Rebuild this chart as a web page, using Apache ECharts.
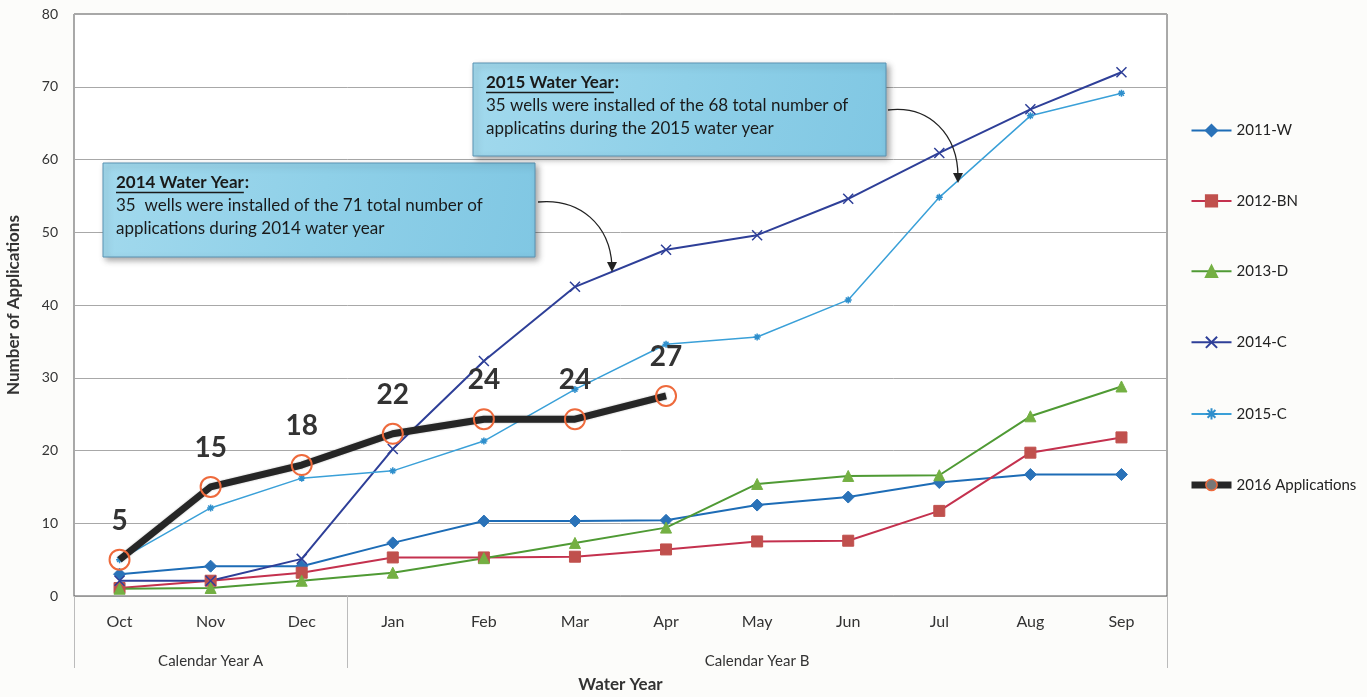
<!DOCTYPE html>
<html><head><meta charset="utf-8">
<script src="https://cdn.jsdelivr.net/npm/echarts@6/dist/echarts.min.js"></script>
<style>html,body{margin:0;padding:0;background:#fcfcfa}#c{width:1367px;height:697px}</style>
</head><body><div id="c"></div>
<script>
const months = ['Oct','Nov','Dec','Jan','Feb','Mar','Apr','May','Jun','Jul','Aug','Sep'];
const yTicks = [0,10,20,30,40,50,60,70,80];
const calendarLabels = ['Calendar Year A','Calendar Year B'];
const w2011 = [3,4.1,4.1,7.3,10.3,10.3,10.4,12.5,13.6,15.6,16.7,16.7];
const bn2012 = [1.1,2.1,3.2,5.3,5.3,5.4,6.4,7.5,7.6,11.7,19.7,21.8];
const d2013 = [1,1.1,2.1,3.2,5.2,7.3,9.4,15.4,16.5,16.6,24.7,28.8];
const c2014 = [2.1,2.1,5.1,20.2,32.3,42.5,47.6,49.6,54.6,60.9,66.9,72];
const c2015 = [5,12.1,16.2,17.2,21.3,28.4,34.6,35.6,40.7,54.8,66,69.1];
const apps2016 = [5,15,18,22.3,24.3,24.3,27.5];
const labels2016 = ['5','15','18','22','24','24','27'];

const FONT = 'Lato';
const chart = echarts.init(document.getElementById('c'));
const mctx = document.createElement('canvas').getContext('2d');
function tw(text, font) { mctx.font = font; return mctx.measureText(text).width; }

function note(x, y, w, h, title, l1, l2) {
  const tf = 'bold 17px ' + FONT;
  const bf = '17px ' + FONT;
  const titleW = tw(title, tf);
  return {
    type: 'group', x: x, y: y, z: 100,
    children: [
      { type: 'rect', z: 100, shape: { x: 0, y: 0, width: w, height: h },
        style: { fill: new echarts.graphic.LinearGradient(0,0,1,1,[{offset:0,color:'#a2d9ed'},{offset:0.5,color:'#8fd0e8'},{offset:1,color:'#80c7e3'}]),
          stroke: '#5a93b3', lineWidth: 1, shadowBlur: 6, shadowOffsetX: 3, shadowOffsetY: 3, shadowColor: 'rgba(0,0,0,0.35)' } },
      { type: 'text', z: 101, x: 13, y: 11, style: { text: title, font: tf, fill: '#1a1a1a' } },
      { type: 'text', z: 101, x: 13 + titleW + 1, y: 11, style: { text: ':', font: tf, fill: '#1a1a1a' } },
      { type: 'line', z: 101, shape: { x1: 13, y1: 29.5, x2: 13 + titleW, y2: 29.5 }, style: { stroke: '#1a1a1a', lineWidth: 1.3 } },
      { type: 'text', z: 101, x: 13, y: 34, style: { text: l1, font: bf, fill: '#1a1a1a' } },
      { type: 'text', z: 101, x: 13, y: 57, style: { text: l2, font: bf, fill: '#1a1a1a' } }
    ]
  };
}
function arrow(x1, y1, cx1, cy1, cx2, cy2, x2, y2) {
  return {
    type: 'group', z: 100, children: [
      { type: 'bezierCurve', z: 100, shape: { x1: x1, y1: y1, cpx1: cx1, cpy1: cy1, cpx2: cx2, cpy2: cy2, x2: x2, y2: y2 - 6 },
        style: { stroke: '#222', lineWidth: 1.3, fill: 'none' } },
      { type: 'polygon', z: 100, shape: { points: [[x2 - 5, y2 - 10], [x2 + 5, y2 - 10], [x2, y2]] }, style: { fill: '#222' } }
    ]
  };
}

const lineSeries = (name, data, color, symbol, size, mcolor, extra) => Object.assign({
  name: name, type: 'line', data: data, symbol: symbol, symbolSize: size,
  lineStyle: { color: color, width: 2 },
  itemStyle: { color: mcolor || color, borderColor: mcolor || color, borderWidth: 1 },
  z: 3
}, extra || {});

const xPath = 'path://M0,0 L10,10 M10,0 L0,10';
const starPath = 'path://M0,5 L10,5 M5,0 L5,10 M1.5,1.5 L8.5,8.5 M8.5,1.5 L1.5,8.5';

chart.setOption({
  animation: false,
  backgroundColor: '#fcfcfa',
  textStyle: { fontFamily: FONT },
  grid: { left: 74, right: 200, top: 14, bottom: 101, show: true, borderColor: '#555', borderWidth: 1, backgroundColor: '#ffffff', outerBoundsMode: 'none', containLabel: false },
  legend: {
    orient: 'vertical', left: 1183, top: 118, itemWidth: 40, itemHeight: 14, itemGap: 55.4,
    textStyle: { fontSize: 15, color: '#222', fontFamily: FONT },
    data: ['2011-W','2012-BN','2013-D','2014-C','2015-C',
      { name: '2016 Applications', lineStyle: { width: 7, color: '#262626' }, itemStyle: { borderColor: '#ee6a3c', color: '#777', borderWidth: 1.5 } }]
  },
  xAxis: [
    { type: 'category', data: months, boundaryGap: true,
      axisLine: { show: true, lineStyle: { color: '#999' } },
      axisTick: { show: false },
      axisLabel: { fontSize: 16, color: '#333', margin: 18 },
      name: 'Water Year', nameLocation: 'middle', nameGap: 80,
      nameTextStyle: { fontSize: 17, fontWeight: 'bold', color: '#333' } },
    { type: 'value', min: 0, max: 12, position: 'bottom',
      axisLine: { show: false }, splitLine: { show: false },
      axisTick: { show: true, customValues: [0, 3, 12], length: 72, lineStyle: { color: '#bbb' } },
      axisLabel: { customValues: [1.5, 7.5], margin: 58, fontSize: 15, color: '#333',
        formatter: v => v < 3 ? calendarLabels[0] : calendarLabels[1] } }
  ],
  yAxis: {
    type: 'value', min: 0, max: 80, interval: 10,
    axisLine: { show: false }, axisTick: { show: false },
    splitLine: { lineStyle: { color: '#a8a8a8', width: 1 } },
    axisLabel: { fontSize: 14, color: '#333', margin: 16, formatter: v => yTicks.includes(v) ? String(v) : '' },
    name: 'Number of Applications', nameLocation: 'middle', nameGap: 52, nameRotate: 90,
    nameTextStyle: { fontSize: 17, fontWeight: 'bold', color: '#333' }
  },
  series: [
    lineSeries('2011-W', w2011, '#1d6cb6', 'diamond', 12, '#2a72b8'),
    lineSeries('2012-BN', bn2012, '#c4314e', 'rect', 11, '#c0504d'),
    lineSeries('2013-D', d2013, '#4f9a34', 'triangle', 11, '#74b043'),
    lineSeries('2014-C', c2014, '#2e3f98', xPath, 10, '#2e3f98', { itemStyle: { color: 'none', borderColor: '#2e3f98', borderWidth: 1.5 } }),
    lineSeries('2015-C', c2015, '#3aa0d8', starPath, 7, '#2f8fcc', { lineStyle: { color: '#3aa0d8', width: 1.5 }, itemStyle: { color: 'none', borderColor: '#2f8fcc', borderWidth: 1.5 } }),
    { name: '2016 Applications', type: 'line', data: apps2016, symbol: 'circle', symbolSize: 20,
      lineStyle: { color: '#262626', width: 7, shadowColor: 'rgba(0,0,0,0.3)', shadowBlur: 2 },
      itemStyle: { color: 'rgba(0,0,0,0)', borderColor: '#ee6a3c', borderWidth: 2 },
      label: { show: true, position: 'top', distance: 14, fontSize: 28, fontWeight: 'bold', color: '#333',
        formatter: p => labels2016[p.dataIndex] },
      z: 5 }
  ],
  graphic: [
    note(103, 163, 432, 94, '2014 Water Year', '35  wells were installed of the 71 total number of', 'applications during 2014 water year'),
    note(473, 63, 413, 93, '2015 Water Year', '35 wells were installed of the 68 total number of', 'applicatins during the 2015 water year'),
    arrow(538, 202, 580, 198, 610, 225, 612, 272),
    arrow(888, 110, 930, 105, 958, 135, 958, 183)
  ]
});
</script></body></html>
